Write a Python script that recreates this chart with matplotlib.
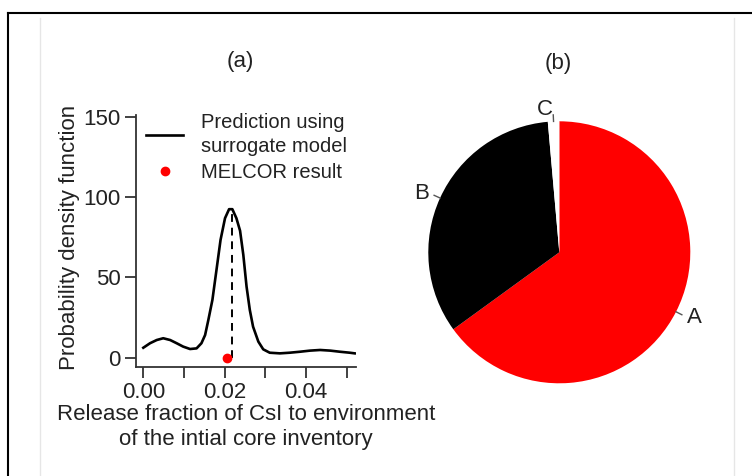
import numpy as np
import matplotlib
matplotlib.use("Agg")
from matplotlib import pyplot as plt
from matplotlib.lines import Line2D

plt.rcParams['font.family'] = ['Liberation Sans', 'DejaVu Sans']

# (a) density curve
release_x = [0.0, 0.00165, 0.0033, 0.0049, 0.0066, 0.0082, 0.0098, 0.0115, 0.0131, 0.0143,
             0.0152, 0.016, 0.017, 0.018, 0.019, 0.0201, 0.0211, 0.0219, 0.0229, 0.0238,
             0.0246, 0.0254, 0.0262, 0.027, 0.0283, 0.0295, 0.0311, 0.0336, 0.036, 0.0385,
             0.041, 0.0435, 0.046, 0.0484, 0.0508, 0.052]
density_y = [6.2, 9.0, 11.0, 12.1, 11.0, 9.0, 6.9, 5.4, 5.8, 9.0,
             14.1, 23.5, 36.0, 54.6, 73.3, 86.8, 92.4, 92.4, 86.8, 79.0,
             64.0, 44.2, 29.7, 19.3, 10.0, 5.2, 3.1, 2.7, 3.1, 3.7,
             4.4, 4.8, 4.4, 3.7, 3.1, 2.7]
peak_x = 0.0219
peak_y = 92.4
melcor_x = [0.0207]
melcor_y = [0.0]

x_ticks = [0.00, 0.02, 0.04]
x_minor = [0.01, 0.03, 0.05]
y_ticks = [0, 50, 100, 150]

# (b) pie shares
pie_labels = ["A", "B", "C"]
pie_values = [65.0, 33.6, 1.4]
pie_colors = ["#ff0000", "#000000", "#ffffff"]

W, H = 752, 476
fig = plt.figure(figsize=(W / 100, H / 100), dpi=100)

def px_box(x0, y0, x1, y1):
    # pixel box (top-left origin) -> figure fraction rect
    return [x0 / W, (H - y1) / H, (x1 - x0) / W, (y1 - y0) / H]

# outer document frame
fig.add_artist(Line2D([8 / W, 8 / W], [0, 1 - 13 / H], color="black", lw=1.5))
fig.add_artist(Line2D([8 / W, 1], [1 - 13 / H, 1 - 13 / H], color="black", lw=1.5))
for gx in (40, 734):
    fig.add_artist(Line2D([gx / W, gx / W], [0, 1 - 18 / H], color="#e6e6e6", lw=1))

# ---- (a)
ax = fig.add_axes(px_box(136, 115, 355.5, 366.7))
ax.plot(release_x, density_y, color="black", lw=1.9, solid_joinstyle="round",
        label="Prediction using\nsurrogate model")
ax.vlines([peak_x], [0], [peak_y], colors="black", linestyles=(0, (4, 3)), lw=1.4)
ax.plot(melcor_x, melcor_y, "o", color="#ff0000", ms=6, clip_on=False, label="MELCOR result")
ax.set_xlim(-0.0018, 0.0522)
ax.set_ylim(-5.6, 151)
ax.set_xticks(x_ticks)
ax.set_xticklabels(["0.00", "0.02", "0.04"])
ax.set_xticks(x_minor, minor=True)
ax.set_yticks(y_ticks)
ax.spines["top"].set_visible(False)
ax.spines["right"].set_visible(False)
for s in ("left", "bottom"):
    ax.spines[s].set_color("#333333")
    ax.spines[s].set_linewidth(1.3)
ax.tick_params(which="both", direction="out", length=8, width=1.3, color="#333333",
               labelsize=16, labelcolor="#222222", pad=3)
ax.set_ylabel("Probability density function", fontsize=16, color="#222222")
ax.yaxis.set_label_coords(-0.255, 0.513)
ax.set_xlabel("Release fraction of CsI to environment\nof the intial core inventory",
              fontsize=16, color="#222222", linespacing=1.25, labelpad=1)
leg = ax.legend(loc="upper left", bbox_to_anchor=(146 / W, 1 - 113 / H),
                bbox_transform=fig.transFigure, frameon=False, fontsize=14.5,
                handlelength=1.85, handletextpad=0.9, labelspacing=0.35,
                borderpad=0, borderaxespad=0, labelcolor="#222222")
for t in leg.get_texts():
    t.set_linespacing(1.35)
fig.text(240 / W, 1 - 62 / H, "(a)", fontsize=16, ha="center", va="center", color="#222222")

# ---- (b)
r = 131
cx, cy = 559.3, 252.3
ax2 = fig.add_axes(px_box(cx - r, cy - r, cx + r, cy + r))
wedges, texts = ax2.pie(pie_values, colors=pie_colors, startangle=90, counterclock=False,
                        radius=1, labels=pie_labels, labeldistance=1.09,
                        wedgeprops=dict(edgecolor="none"),
                        textprops=dict(fontsize=16, color="#222222"))
for w in wedges:
    mid = np.deg2rad((w.theta1 + w.theta2) / 2)
    ax2.plot([np.cos(mid), 1.05 * np.cos(mid)], [np.sin(mid), 1.05 * np.sin(mid)],
             color="#555555", lw=1, clip_on=False)
ax2.set_xlim(-1, 1)
ax2.set_ylim(-1, 1)
ax2.set_aspect("equal")
fig.text(558 / W, 1 - 64 / H, "(b)", fontsize=16, ha="center", va="center", color="#222222")

fig.savefig("out.png", dpi=100)
